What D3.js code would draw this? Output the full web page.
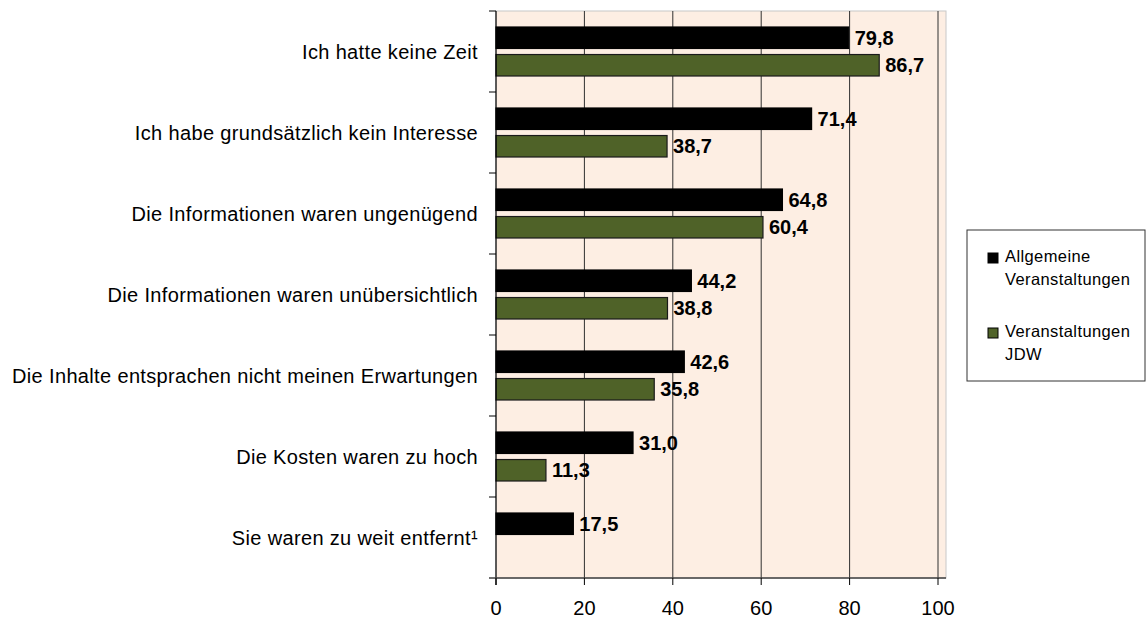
<!DOCTYPE html>
<html>
<head>
<meta charset="utf-8">
<script src="https://cdnjs.cloudflare.com/ajax/libs/d3/7.8.5/d3.min.js"></script>
<style>
  body { margin: 0; background: #fff; }
  text { font-family: "Liberation Sans", Arial, sans-serif; fill: #000; }
</style>
</head>
<body>
<div id="chart"></div>
<script>
var categories = [
  "Ich hatte keine Zeit",
  "Ich habe grundsätzlich kein Interesse",
  "Die Informationen waren ungenügend",
  "Die Informationen waren unübersichtlich",
  "Die Inhalte entsprachen nicht meinen Erwartungen",
  "Die Kosten waren zu hoch",
  "Sie waren zu weit entfernt\u00b9"
];
var allgemeine = [79.8, 71.4, 64.8, 44.2, 42.6, 31.0, 17.5];
var jdw = [86.7, 38.7, 60.4, 38.8, 35.8, 11.3, null];
var seriesNames = ["Allgemeine Veranstaltungen", "Veranstaltungen JDW"];
var xTicks = [0, 20, 40, 60, 80, 100];

var chart_width = 1147;
var chart_height = 619;

var colors = ['#000000', '#4F6228'];
var strokes = ['#000000', '#1a1a1a'];

var plotLeft = 496, plotRight = 938, plotTop = 11, plotBottom = 578;

var x = d3.scaleLinear().domain([0, 100]).range([plotLeft, plotRight]);
var y = d3.scaleBand().domain(categories).range([plotTop, plotBottom]);
var inner = d3.scaleBand().domain([0, 1]).range([16, 65]).paddingInner(0.22);

var de = d3.formatLocale({decimal: ",", thousands: ".", grouping: [3], currency: ["", " €"]});
var fmt = de.format(".1f");

var svg = d3.select("#chart")
  .append("svg")
  .attr("width", chart_width)
  .attr("height", chart_height);

// plot background
svg.append("rect")
  .attr("x", plotLeft)
  .attr("y", plotTop)
  .attr("width", 946 - plotLeft)
  .attr("height", plotBottom - plotTop)
  .attr("fill", "#FDEEE3")
  .attr("stroke", "#c8c8c8")
  .attr("stroke-width", 1);

// vertical grid lines
svg.append("g")
  .selectAll("line")
  .data(xTicks.slice(1))
  .enter()
  .append("line")
  .attr("x1", function(d) { return x(d); })
  .attr("x2", function(d) { return x(d); })
  .attr("y1", plotTop)
  .attr("y2", plotBottom)
  .attr("stroke", "#303030")
  .attr("stroke-width", 1);

// bars
var series = [allgemeine, jdw];
series.forEach(function(vals, si) {
  var rows = categories.map(function(c, i) { return {cat: c, value: vals[i]}; })
    .filter(function(d) { return d.value !== null; });

  svg.append("g")
    .selectAll("rect")
    .data(rows)
    .enter()
    .append("rect")
    .attr("x", x(0))
    .attr("y", function(d) { return y(d.cat) + inner(si); })
    .attr("width", function(d) { return x(d.value) - x(0); })
    .attr("height", inner.bandwidth())
    .attr("fill", colors[si])
    .attr("stroke", strokes[si])
    .attr("stroke-width", 1.2);

  svg.append("g")
    .selectAll("text")
    .data(rows)
    .enter()
    .append("text")
    .attr("x", function(d) { return x(d.value) + 6; })
    .attr("y", function(d) { return y(d.cat) + inner(si) + inner.bandwidth() / 2; })
    .attr("dy", "0.36em")
    .attr("font-size", "20px")
    .attr("font-weight", "bold")
    .text(function(d) { return fmt(d.value); });
});

// left axis
var yAxis = svg.append("g");
yAxis.append("line")
  .attr("x1", plotLeft).attr("x2", plotLeft)
  .attr("y1", plotTop).attr("y2", plotBottom + 7)
  .attr("stroke", "#000").attr("stroke-width", 1.2);
yAxis.selectAll("line.tick")
  .data(categories)
  .enter()
  .append("line")
  .attr("class", "tick")
  .attr("x1", plotLeft - 7).attr("x2", plotLeft)
  .attr("y1", function(d) { return y(d); })
  .attr("y2", function(d) { return y(d); })
  .attr("stroke", "#000");
yAxis.selectAll("text")
  .data(categories)
  .enter()
  .append("text")
  .attr("x", 478)
  .attr("y", function(d) { return y(d) + y.bandwidth() / 2; })
  .attr("dy", "0.35em")
  .attr("text-anchor", "end")
  .attr("font-size", "20px")
  .attr("letter-spacing", "0.35px")
  .text(function(d) { return d; });

// bottom axis
var xAxis = svg.append("g");
xAxis.append("line")
  .attr("x1", plotLeft - 7).attr("x2", 946)
  .attr("y1", plotBottom).attr("y2", plotBottom)
  .attr("stroke", "#404040").attr("stroke-width", 1.5);
xAxis.selectAll("line.tick")
  .data(xTicks)
  .enter()
  .append("line")
  .attr("class", "tick")
  .attr("x1", function(d) { return x(d); })
  .attr("x2", function(d) { return x(d); })
  .attr("y1", plotBottom).attr("y2", plotBottom + 7)
  .attr("stroke", "#000");
xAxis.selectAll("text")
  .data(xTicks)
  .enter()
  .append("text")
  .attr("x", function(d) { return x(d); })
  .attr("y", 608)
  .attr("dy", "0.35em")
  .attr("text-anchor", "middle")
  .attr("font-size", "20px")
  .text(function(d) { return d; });

// legend
var legend = svg.append("g");
legend.append("rect")
  .attr("x", 967).attr("y", 230)
  .attr("width", 178).attr("height", 151)
  .attr("fill", "#fff")
  .attr("stroke", "#333")
  .attr("stroke-width", 1);

var legendRows = [
  {lines: ["Allgemeine", "Veranstaltungen"], base: 262},
  {lines: ["Veranstaltungen", "JDW"], base: 337}
];
legendRows.forEach(function(r, i) {
  legend.append("rect")
    .attr("x", 988).attr("y", r.base - 9)
    .attr("width", 10).attr("height", 10)
    .attr("fill", colors[i])
    .attr("stroke", "#000")
    .attr("stroke-width", 1);
  r.lines.forEach(function(t, j) {
    legend.append("text")
      .attr("x", 1005)
      .attr("y", r.base + j * 23)
      .attr("font-size", "16.5px")
      .attr("letter-spacing", "0.4px")
      .text(t);
  });
});
</script>
</body>
</html>
